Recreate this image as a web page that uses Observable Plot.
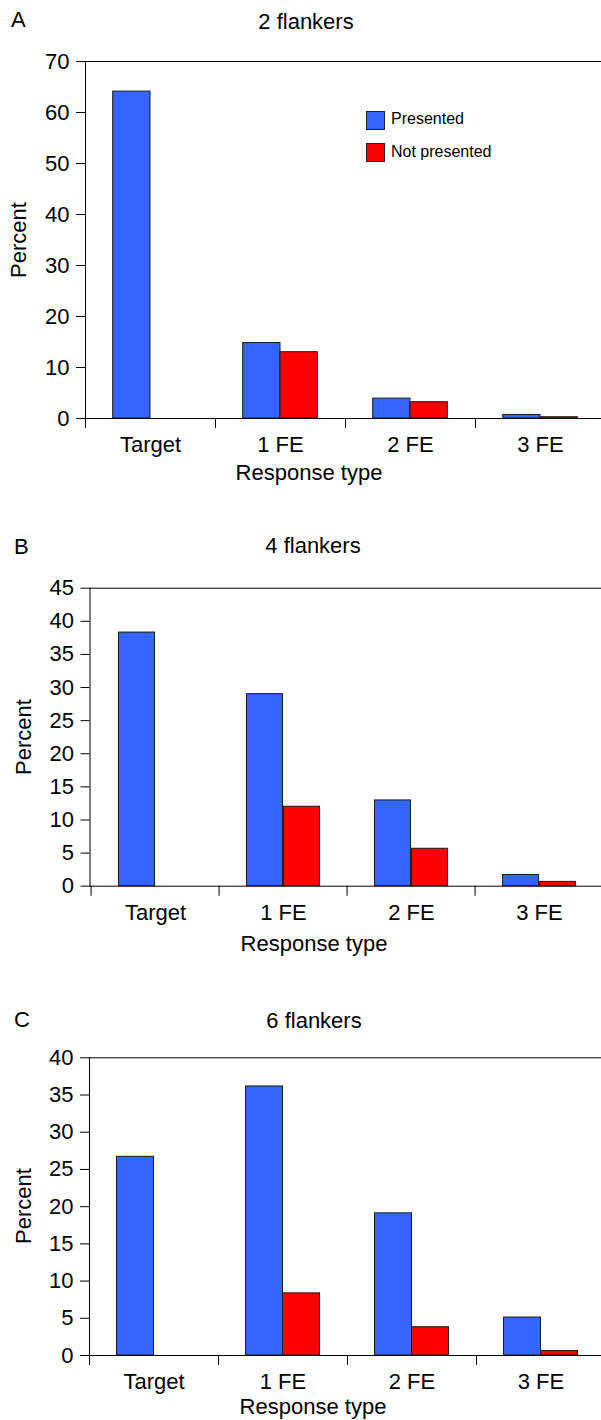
<!DOCTYPE html>
<html><head><meta charset="utf-8">
<script src="https://cdn.jsdelivr.net/npm/d3@7"></script>
<script src="https://cdn.jsdelivr.net/npm/@observablehq/plot@0.6"></script>
<style>
body{margin:0;background:#fff;font-family:"Liberation Sans",Arial,sans-serif;}
#root{position:relative;width:601px;height:1420px;overflow:hidden;background:#fff}
.abs{position:absolute;white-space:nowrap;color:#000;line-height:1}
.panel{position:absolute;left:0}
.sw{position:absolute;width:17px;height:17px;border:1px solid #222;box-sizing:content-box}
</style></head><body><div id="root"></div>
<script>
// ---- data ----
const categories = ["Target", "1 FE", "2 FE", "3 FE"];
const seriesNames = ["Presented", "Not presented"];
const seriesColors = ["#3366ff", "#ff0000"];
const panelLetters = ["A", "B", "C"];
const panelTitles = ["2 flankers", "4 flankers", "6 flankers"];
const xLabel = "Response type";
const yLabel = "Percent";
const presentedA = [64.1, 14.8, 3.9, 0.7];
const notPresentedA = [null, 13.0, 3.2, 0.25];
const presentedB = [38.3, 29.0, 12.95, 1.7];
const notPresentedB = [null, 12.0, 5.65, 0.65];
const presentedC = [26.7, 36.15, 19.1, 5.1];
const notPresentedC = [null, 8.35, 3.8, 0.6];
const yTicksA = [0, 10, 20, 30, 40, 50, 60, 70];
const yTicksB = [0, 5, 10, 15, 20, 25, 30, 35, 40, 45];
const yTicksC = [0, 5, 10, 15, 20, 25, 30, 35, 40];

// ---- layout ----
const root = document.getElementById("root");
const panels = [
  {pres: presentedA, notp: notPresentedA, ticks: yTicksA, top: 40, height: 460, mt: 21, mb: 82, ml: 85,
   letter: {x: 11, base: 28}, title: {cx: 306, base: 29.3}, xl: {cx: 309, base: 481}, yl: {cx: 19}, legend: true},
  {pres: presentedB, notp: notPresentedB, ticks: yTicksB, top: 565, height: 400, mt: 22.7, mb: 79.3, ml: 89.5,
   letter: {x: 14, base: 555}, title: {cx: 313, base: 554}, xl: {cx: 314, base: 951.7}, yl: {cx: 23.5}},
  {pres: presentedC, notp: notPresentedC, ticks: yTicksC, top: 1035, height: 385, mt: 22.3, mb: 65, ml: 89,
   letter: {x: 14, base: 1028}, title: {cx: 314, base: 1029}, xl: {cx: 313, base: 1415}, yl: {cx: 24}}
];
const W = 601, MR = -4;
const base = f => 0.8465 * f;

function addText(txt, opts) {
  const d = document.createElement("div");
  d.className = "abs";
  d.textContent = txt;
  d.style.fontSize = opts.size + "px";
  d.style.top = (opts.base - base(opts.size)) + "px";
  if (opts.cx != null) { d.style.left = opts.cx + "px"; d.style.transform = "translateX(-50%)"; }
  else d.style.left = opts.x + "px";
  root.appendChild(d);
  return d;
}

panels.forEach((p, k) => {
  const bw = (W - p.ml - MR) / categories.length;
  const barW = bw * 0.287;
  const rows = categories.map((c, i) => ({cat: c, pres: p.pres[i], notp: p.notp[i]}));
  const ymax = p.ticks[p.ticks.length - 1];
  const chart = Plot.plot({
    width: W, height: p.height,
    marginLeft: p.ml, marginRight: MR, marginTop: p.mt, marginBottom: p.mb,
    style: {fontFamily: '"Liberation Sans", Arial, sans-serif', fontSize: "22px", color: "#000", background: "transparent", overflow: "visible"},
    x: {domain: categories, paddingInner: 0, paddingOuter: 0},
    y: {domain: [0, ymax]},
    marks: [
      Plot.barY(rows.filter(d => d.pres != null), {x: "cat", y: "pres", fill: seriesColors[0], stroke: "#1a1a1a", strokeWidth: 1,
        insetLeft: bw / 2 - barW, insetRight: bw / 2}),
      Plot.barY(rows.filter(d => d.notp != null), {x: "cat", y: "notp", fill: seriesColors[1], stroke: "#1a1a1a", strokeWidth: 1,
        insetLeft: bw / 2, insetRight: bw / 2 - barW}),
      Plot.frame({anchor: "top", stroke: "#000"}),
      Plot.frame({anchor: "left", stroke: "#000"}),
      Plot.ruleY([0], {stroke: "#000"}),
      Plot.axisY({ticks: p.ticks, tickSize: 9, tickPadding: 7, label: null, fontSize: 22}),
      Plot.axisX({tickSize: 0, tickPadding: 18, label: null, fontSize: 22}),
      Plot.axisX({tickSize: 10, tickFormat: () => "", dx: -bw / 2, label: null})
    ]
  });
  const wrap = document.createElement("div");
  wrap.className = "panel";
  wrap.style.top = p.top + "px";
  wrap.appendChild(chart);
  root.appendChild(wrap);

  addText(panelLetters[k], {size: 22, x: p.letter.x, base: p.letter.base});
  addText(panelTitles[k], {size: 22, cx: p.title.cx, base: p.title.base});
  addText(xLabel, {size: 22, cx: p.xl.cx, base: p.xl.base});
  // y label, rotated, centered on frame
  const yTop = p.top + p.mt, yBot = p.top + p.height - p.mb;
  const yl = document.createElement("div");
  yl.className = "abs";
  yl.textContent = yLabel;
  yl.style.fontSize = "22px";
  yl.style.left = p.yl.cx + "px";
  yl.style.top = ((yTop + yBot) / 2) + "px";
  yl.style.transform = "translate(-50%,-50%) rotate(-90deg)";
  root.appendChild(yl);

  if (p.legend) {
    const items = [{y: 110.5, base: 125}, {y: 142.5, base: 157.3}];
    items.forEach((it, j) => {
      const s = document.createElement("div");
      s.className = "sw";
      s.style.left = "365.5px";
      s.style.top = it.y + "px";
      s.style.background = seriesColors[j];
      root.appendChild(s);
      addText(seriesNames[j], {size: 16, x: 391, base: it.base});
    });
  }
});
</script></body></html>
